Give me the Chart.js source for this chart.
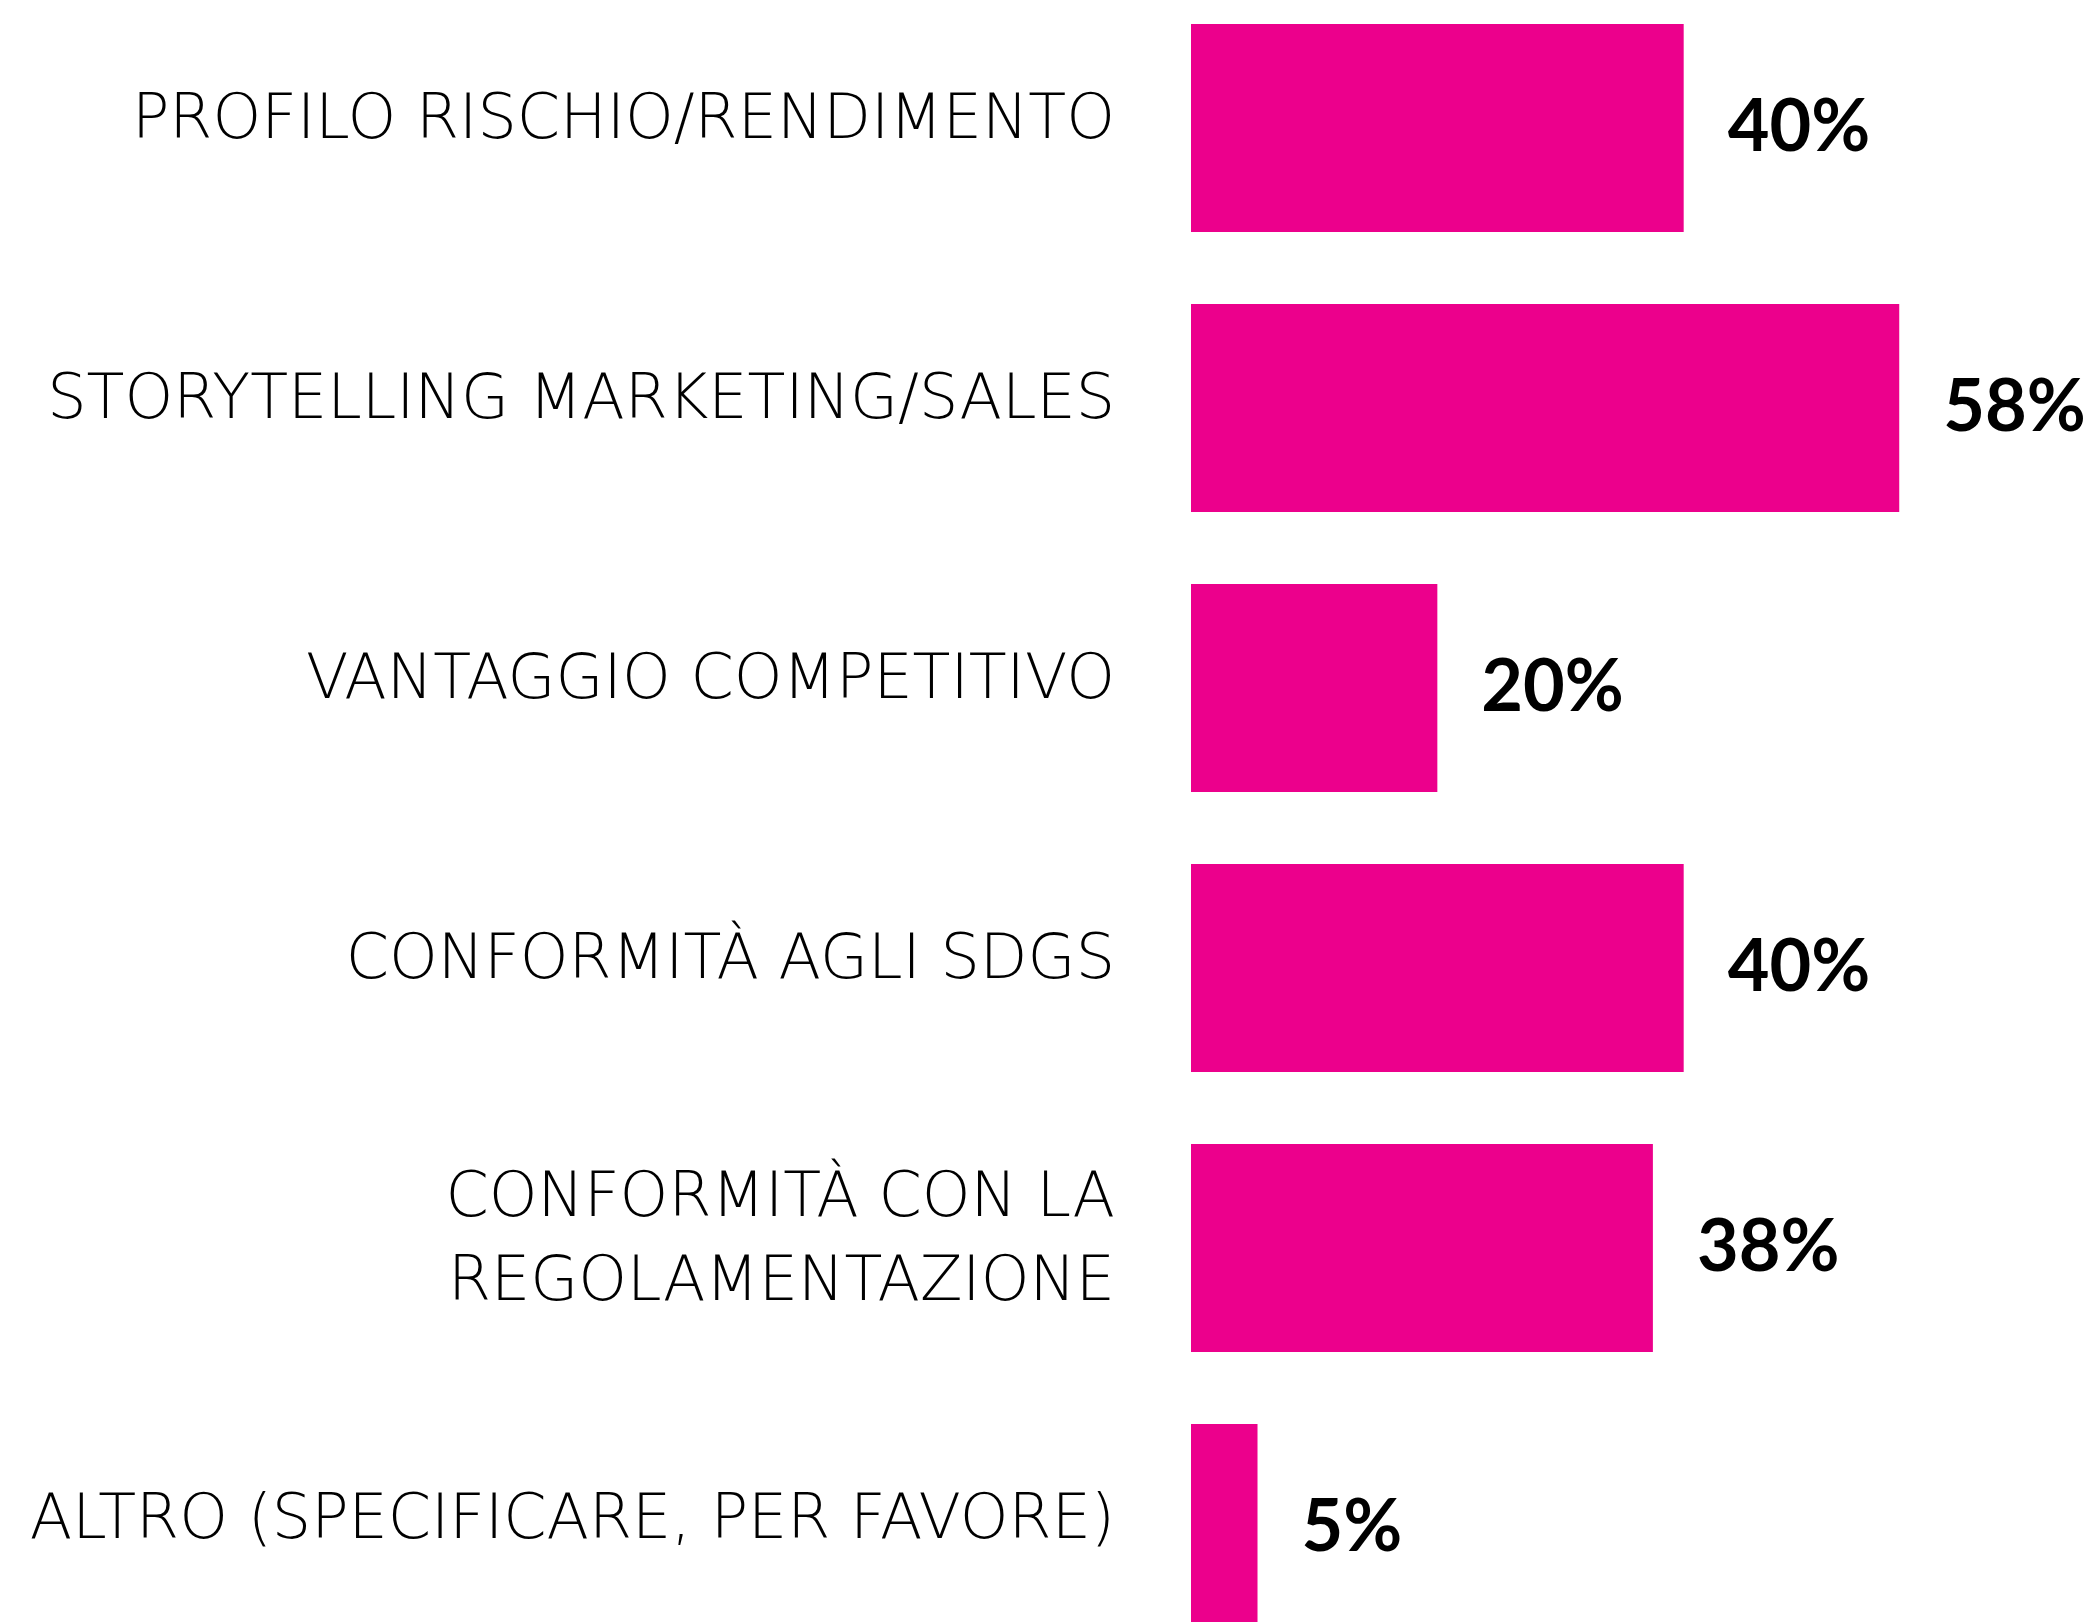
<!DOCTYPE html>
<html>
<head>
<meta charset="utf-8">
<script src="https://cdn.jsdelivr.net/npm/chart.js@4"></script>
<style>
  html, body { margin: 0; padding: 0; background: #fff; overflow: hidden; }
  #bar-chart { position: absolute; left: 0; top: -12px; }
</style>
</head>
<body>
<canvas id="bar-chart" width="2084" height="1680"></canvas>
<script>
// Categories (multi-line label as an array)
var categories = [
  "PROFILO RISCHIO/RENDIMENTO",
  "STORYTELLING MARKETING/SALES",
  "VANTAGGIO COMPETITIVO",
  "CONFORMITÀ AGLI SDGS",
  ["CONFORMITÀ CON LA", "REGOLAMENTAZIONE"],
  "ALTRO (SPECIFICARE, PER FAVORE)"
];

// Share of answers, in percent
var values = [40, 57.5, 20, 40, 37.5, 5.4];

document.addEventListener("DOMContentLoaded", function () {
  var ctx = document.getElementById("bar-chart").getContext("2d");

  // Draw the "xx%" labels right of each bar
  var valueLabels = {
    id: "valueLabels",
    afterDatasetsDraw: function (chart) {
      var c = chart.ctx;
      var meta = chart.getDatasetMeta(0);
      c.save();
      c.font = "bold 72px Lato";
      c.fillStyle = "#000";
      c.textAlign = "left";
      c.textBaseline = "middle";
      meta.data.forEach(function (bar, i) {
        c.fillText(Math.round(values[i]) + "%", bar.x + 44, bar.y);
      });
      c.restore();
    },
  };

  new Chart(ctx, {
    type: "bar",
    data: {
      labels: categories,
      datasets: [
        {
          data: values,
          backgroundColor: "#EC008C",
          categoryPercentage: 1,
          barPercentage: 0.743,
        },
      ],
    },
    options: {
      indexAxis: "y",
      responsive: false,
      animation: false,
      layout: { padding: 0 },
      plugins: {
        legend: { display: false },
        tooltip: { enabled: false },
      },
      scales: {
        x: {
          display: false,
          min: 0,
          max: 72.5,
        },
        y: {
          grid: { display: false, drawTicks: false },
          border: { display: false },
          afterFit: function (scale) {
            scale.width = 1191; // bars start here
            // no extra room above/below for tick labels
            scale.paddingTop = 0;
            scale.paddingBottom = 0;
          },
          ticks: {
            color: "#000",
            padding: 76,
            labelOffset: -6,
            font: { family: "DejaVu Sans", weight: 200, size: 62, lineHeight: 1.35 },
          },
        },
      },
    },
    plugins: [valueLabels],
  });
});
</script>
</body>
</html>
